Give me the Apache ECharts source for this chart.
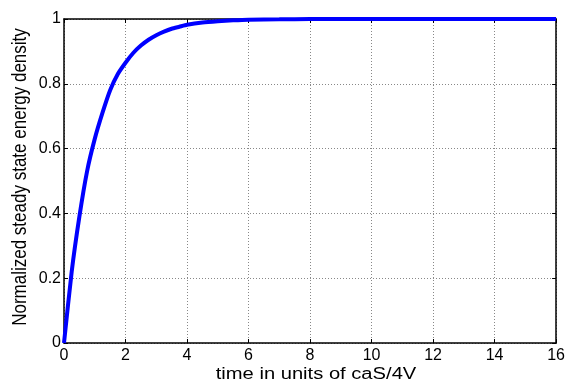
<!DOCTYPE html>
<html>
<head>
<meta charset="utf-8">
<script src="https://cdn.jsdelivr.net/npm/echarts@6/dist/echarts.min.js"></script>
<style>
  html, body { margin: 0; padding: 0; background: #fff; }
  #chart { width: 568px; height: 383px; }
</style>
</head>
<body>
<div id="chart"></div>
<script>
// time in units of caS/4V
const timeValues = [0, 0.25, 0.5, 0.75, 1, 1.25, 1.5, 1.75, 2, 2.25, 2.5, 2.75, 3, 3.25, 3.5, 3.75, 4, 4.5, 5, 5.5, 6, 7, 8, 10, 12, 14, 16]
// normalized steady state energy density
const densityValues = [0, 0.22, 0.39, 0.53, 0.63, 0.71, 0.78, 0.83, 0.865, 0.895, 0.918, 0.936, 0.95, 0.961, 0.97, 0.976, 0.982, 0.989, 0.993, 0.996, 0.998, 0.999, 1, 1, 1, 1, 1]
const xTicks = [0, 2, 4, 6, 8, 10, 12, 14, 16]
const yTicks = [0, 0.2, 0.4, 0.6, 0.8, 1]
const xName = 'time in units of caS/4V'
const yName = 'Normalized steady state energy density'

const font = 'Liberation Sans, Arial, sans-serif'
const chart = echarts.init(document.getElementById('chart'))

const boxAxis = {
  axisLine: { show: true, onZero: false, lineStyle: { color: '#000', width: 1.5 } },
  axisTick: { show: true, inside: true, length: 4, lineStyle: { color: '#000' } },
  axisLabel: { show: false },
  splitLine: { show: false }
}

chart.setOption({
  animation: false,
  grid: { left: 64, top: 19, right: 9, bottom: 40 },
  // the source figure is stretched sideways, so the axis titles are scaled text
  graphic: [{
    type: 'text',
    x: 316,
    y: 375,
    scaleX: 1.26,
    style: {
      text: xName, fill: '#000', font: '16px ' + font,
      align: 'center', verticalAlign: 'middle'
    }
  }, {
    type: 'text',
    x: 21,
    y: 177,
    rotation: Math.PI / 2,
    scaleY: 1.15,
    style: {
      text: yName, fill: '#000', font: '17px ' + font,
      align: 'center', verticalAlign: 'middle'
    }
  }],
  xAxis: [{
    type: 'value',
    min: 0,
    max: 16,
    interval: 2,
    axisLine: { onZero: false, lineStyle: { color: '#000', width: 1.5 } },
    axisTick: { inside: true, length: 4, lineStyle: { color: '#000' } },
    axisLabel: {
      color: '#000', fontSize: 16, fontFamily: font, margin: 5,
      formatter: v => xTicks.includes(v) ? String(v) : ''
    },
    splitLine: { show: true, lineStyle: { type: [1, 2], color: '#888', width: 1 } }
  }, Object.assign({ type: 'value', position: 'top', min: 0, max: 16, interval: 2 }, boxAxis)],
  yAxis: [{
    type: 'value',
    min: 0,
    max: 1,
    interval: 0.2,
    axisLine: { show: true, onZero: false, lineStyle: { color: '#000', width: 1.5 } },
    axisTick: { show: true, inside: true, length: 4, lineStyle: { color: '#000' } },
    axisLabel: {
      color: '#000', fontSize: 16, fontFamily: font, margin: 3,
      formatter: v => {
        const t = yTicks.find(k => Math.abs(k - v) < 1e-9)
        return t === undefined ? '' : String(t)
      }
    },
    splitLine: { show: true, lineStyle: { type: [1, 2], color: '#888', width: 1 } }
  }, Object.assign({ type: 'value', position: 'right', min: 0, max: 1, interval: 0.2 }, boxAxis)],
  series: [{
    type: 'line',
    data: timeValues.map((t, i) => [t, densityValues[i]]),
    smooth: 0.2,
    showSymbol: false,
    lineStyle: { color: '#0000ff', width: 4 }
  }]
})
</script>
</body>
</html>
